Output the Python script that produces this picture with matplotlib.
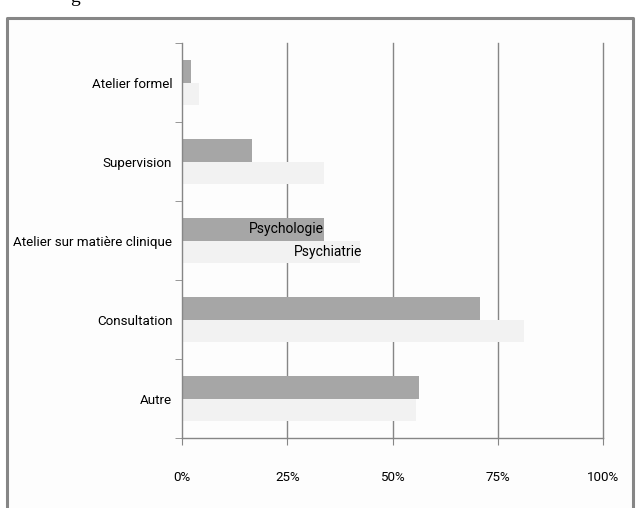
import matplotlib
matplotlib.use("Agg")
import matplotlib.pyplot as plt
import numpy as np
from matplotlib.lines import Line2D

plt.rcParams['font.family'] = ['Roboto', 'DejaVu Sans']

categories = ["Atelier formel", "Supervision", "Atelier sur matière clinique",
              "Consultation", "Autre"]
psychologie = [2.2, 16.7, 33.8, 70.7, 56.3]
psychiatrie = [4.0, 33.7, 42.2, 81.2, 55.7]
series_names = ["Psychologie", "Psychiatrie"]
x_ticks = [0, 25, 50, 75, 100]
x_labels = ["0%", "25%", "50%", "75%", "100%"]

dark = "#a6a6a6"
light = "#f2f2f2"
axis_col = "#868686"
fs = 9.6

fig = plt.figure(figsize=(6.37, 5.08), dpi=100)
fig.patch.set_facecolor("white")

# outer chart frame (bottom edge runs off the image); display coords, y up
fig.patches.append(plt.Rectangle((7, 0), 626, 490, transform=None,
                                 facecolor="#fdfdfd", edgecolor="none", zorder=-1))
fig.lines.append(Line2D([7, 7, 633, 633], [0, 490, 490, 0], transform=None,
                        color=axis_col, lw=2.2))
fig.text(0.118, 1.005, "g", fontsize=14, ha="center", va="center",
         family="Liberation Serif")

ax = fig.add_axes([182 / 637, 1 - 438 / 508, 421 / 637, 395 / 508])
ax.set_facecolor("none")

n = len(categories)
y = np.arange(n)
h = 0.285
ax.barh(y - h / 2, psychologie, height=h, color=dark, zorder=2)
ax.barh(y + h / 2, psychiatrie, height=h, color=light, zorder=2)

# series labels on the clinical-material bars
k = 2
ax.text(psychologie[k], k - h / 2, series_names[0], ha="right", va="center",
        fontsize=fs + 0.4, zorder=3)
ax.text(psychiatrie[k] + 0.5, k + h / 2, series_names[1], ha="right",
        va="center", fontsize=fs + 0.4, zorder=3)

ax.set_xlim(0, 100)
ax.set_ylim(n - 0.5, -0.5)
ax.set_xticks(x_ticks)
ax.set_xticklabels(x_labels, fontsize=fs)
ax.set_yticks(y)
ax.set_yticklabels(categories, fontsize=fs)
ax.set_yticks(np.arange(n + 1) - 0.5, minor=True)

for xv in x_ticks[1:]:
    ax.axvline(xv, color=axis_col, lw=1, zorder=1, clip_on=False)

for s in ["top", "right"]:
    ax.spines[s].set_visible(False)
for s in ["left", "bottom"]:
    ax.spines[s].set_color(axis_col)
    ax.spines[s].set_linewidth(1)

ax.tick_params(axis="y", which="major", length=0, pad=7)
ax.tick_params(axis="y", which="minor", length=5, color=axis_col)
ax.tick_params(axis="x", length=5, color=axis_col, pad=19)

fig.savefig("out.png", dpi=100)
